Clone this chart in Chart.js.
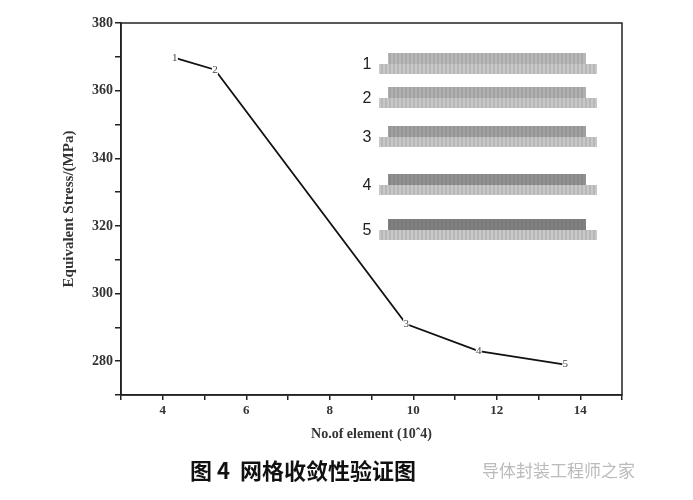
<!DOCTYPE html>
<html>
<head>
<meta charset="utf-8">
<script src="https://cdn.jsdelivr.net/npm/chart.js@4/dist/chart.umd.min.js"></script>
<style>
  html, body { margin: 0; padding: 0; background: #fff; }
  #wrap { width: 693px; height: 500px; }
</style>
</head>
<body>
<div id="wrap"><canvas id="meshChart"></canvas></div>
<script>
const elements = [4.29, 5.25, 9.83, 11.57, 13.64];
const stress = [369.7, 366.2, 291.0, 283.0, 279.0];
const pointLabels = ['1', '2', '3', '4', '5'];
const meshLabels = ['1', '2', '3', '4', '5'];

// frame around plot area, point numbers, mesh inset and caption
const decorPlugin = {
  id: 'decor',
  afterDraw(chart) {
    const { ctx, chartArea: a } = chart;
    ctx.save();
    ctx.strokeStyle = '#222';
    ctx.lineWidth = 1.5;
    ctx.strokeRect(a.left, a.top, a.right - a.left, a.bottom - a.top);

    const meta = chart.getDatasetMeta(0);
    ctx.font = '11px "Liberation Serif"';
    ctx.textAlign = 'center';
    ctx.textBaseline = 'middle';
    meta.data.forEach((p, i) => {
      ctx.fillStyle = '#fff';
      ctx.fillRect(p.x - 3, p.y - 5, 6, 10);
      ctx.fillStyle = '#444';
      ctx.fillText(pointLabels[i], p.x, p.y);
    });

    // mesh inset
    const rows = [64, 98, 137, 185, 230];
    const shades = ['#b8b8b8', '#b0b0b0', '#a0a0a0', '#909090', '#808080'];
    rows.forEach((y, i) => {
      ctx.fillStyle = '#c8c8c8';
      ctx.fillRect(379, y, 218, 10);
      ctx.fillStyle = shades[i];
      ctx.fillRect(388, y - 11, 198, 11);
      ctx.strokeStyle = 'rgba(90,90,90,0.5)';
      ctx.lineWidth = 0.6;
      for (let x = 382; x < 596; x += 4) {
        ctx.beginPath(); ctx.moveTo(x, y); ctx.lineTo(x, y + 10); ctx.stroke();
      }
      for (let x = 390; x < 585; x += 4) {
        ctx.beginPath(); ctx.moveTo(x, y - 11); ctx.lineTo(x, y); ctx.stroke();
      }
      ctx.fillStyle = '#222';
      ctx.font = '16px "Liberation Sans"';
      ctx.textAlign = 'center';
      ctx.fillText(meshLabels[i], 367, y + 1);
    });

    ctx.textAlign = 'left';
    ctx.textBaseline = 'alphabetic';
    ctx.fillStyle = '#111';
    ctx.font = 'bold 22px "Noto Sans CJK SC"';
    ctx.fillText('图 4  网格收敛性验证图', 190, 479);
    ctx.fillStyle = '#bbb';
    ctx.font = '17px "Noto Sans CJK SC"';
    ctx.fillText('导体封装工程师之家', 482, 477);
    ctx.restore();
  }
};

new Chart(document.getElementById('meshChart'), {
  type: 'line',
  data: {
    datasets: [{
      data: elements.map((x, i) => ({ x: x, y: stress[i] })),
      borderColor: '#111',
      borderWidth: 1.8,
      pointRadius: 0,
      tension: 0
    }]
  },
  options: {
    responsive: true,
    maintainAspectRatio: false,
    animation: false,
    layout: { padding: { left: 60, right: 71, top: 23, bottom: 55 } },
    plugins: { legend: { display: false }, tooltip: { enabled: false } },
    scales: {
      x: {
        type: 'linear', min: 3, max: 15,
        grid: { display: true, drawOnChartArea: false, drawTicks: true, tickLength: 5, color: '#222', lineWidth: 1.5 },
        border: { color: '#222', width: 1.5 },
        ticks: {
          stepSize: 1, color: '#333', padding: 3,
          font: { family: 'Liberation Serif', size: 13, weight: 'bold' },
          callback: v => (v % 2 === 0 && v > 3 && v < 15) ? v : ''
        },
        title: { display: true, text: 'No.of element (10ˆ4)', color: '#333', padding: 2,
                 font: { family: 'Liberation Serif', size: 14, weight: 'bold' } },
        afterFit: s => { s.height = 50; }
      },
      y: {
        min: 270, max: 380,
        grid: { display: true, drawOnChartArea: false, drawTicks: true, tickLength: 6, color: '#222', lineWidth: 1.5 },
        border: { color: '#222', width: 1.5 },
        ticks: {
          stepSize: 10, color: '#333', padding: 2,
          font: { family: 'Liberation Serif', size: 14, weight: 'bold' },
          callback: v => (v % 20 === 0 && v > 270) ? v : ''
        },
        title: { display: true, text: 'Equivalent Stress/(MPa)', color: '#333', padding: 0,
                 font: { family: 'Liberation Serif', size: 15, weight: 'bold' } },
        afterFit: s => { s.width = 61; }
      }
    }
  },
  plugins: [decorPlugin]
});
</script>
</body>
</html>
